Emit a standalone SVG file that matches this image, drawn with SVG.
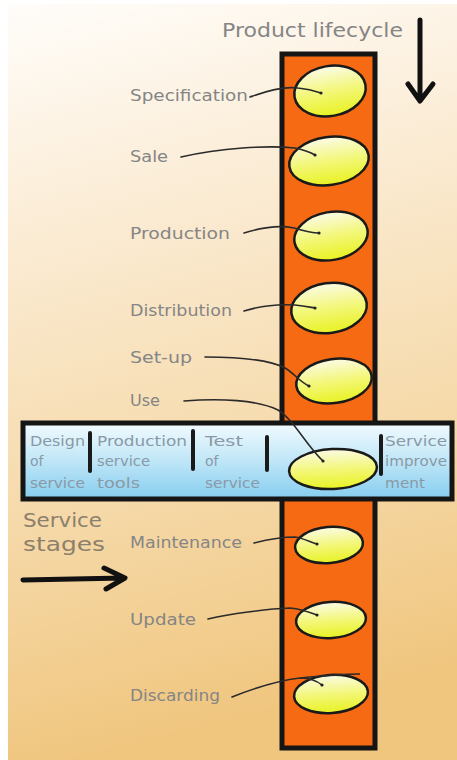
<svg xmlns="http://www.w3.org/2000/svg" width="457" height="760" viewBox="0 0 457 760">
<defs>
<linearGradient id="bg" x1="0" y1="0" x2="0.15" y2="1">
<stop offset="0" stop-color="#fffdfa"/>
<stop offset="0.3" stop-color="#fbecd5"/>
<stop offset="0.7" stop-color="#f5d8a6"/>
<stop offset="1" stop-color="#f0c67f"/>
</linearGradient>
<linearGradient id="band" x1="0" y1="0" x2="0" y2="1">
<stop offset="0" stop-color="#f2fbff"/>
<stop offset="0.5" stop-color="#bfe6f7"/>
<stop offset="1" stop-color="#86cdef"/>
</linearGradient>
<linearGradient id="egg" x1="0" y1="0" x2="0" y2="1">
<stop offset="0" stop-color="#fbfbe6"/>
<stop offset="0.5" stop-color="#f3f77a"/>
<stop offset="1" stop-color="#e8f222"/>
</linearGradient>
<marker id="dot" markerWidth="4" markerHeight="4" refX="2" refY="2" markerUnits="userSpaceOnUse">
<circle cx="2" cy="2" r="1.6" fill="#222"/>
</marker>
</defs>
<style>
.lbl{font-family:"DejaVu Sans","Liberation Sans",sans-serif;font-size:15px;fill:#858585}
.bt{font-family:"DejaVu Sans","Liberation Sans",sans-serif;font-size:14px;fill:#8a99a6}
.egg{fill:url(#egg);stroke:#1a1a1a;stroke-width:2.5}
.con{fill:none;stroke:#2a2a2a;stroke-width:1.6;stroke-linecap:round;marker-end:url(#dot)}
.div{stroke:#1a1a1a;stroke-width:4;stroke-linecap:round}
.arr{fill:none;stroke:#111;stroke-width:5;stroke-linecap:round;stroke-linejoin:round}
</style>
<rect x="0" y="0" width="457" height="760" fill="#ffffff"/>
<rect x="8" y="4" width="449" height="756" fill="url(#bg)"/>

<g id="title">
<text x="222" y="37" class="lbl" style="font-size:20px" textLength="181" lengthAdjust="spacingAndGlyphs">Product lifecycle</text>
<path class="arr" d="M420,20 L420,100 M408,84 L420,101 L433,84"/>
</g>

<g id="lifecycle-column">
<rect x="282" y="54" width="93" height="694" fill="#f66a14" stroke="#151515" stroke-width="5"/>
</g>

<g id="service-band">
<rect x="23" y="423" width="429" height="76" fill="url(#band)" stroke="#151515" stroke-width="5"/>
<line class="div" x1="90" y1="433" x2="90" y2="471"/>
<line class="div" x1="193" y1="431" x2="193" y2="469"/>
<line class="div" x1="267" y1="437" x2="267" y2="470"/>
<line class="div" x1="381" y1="436" x2="381" y2="474"/>
</g>

<g id="stage-design">
<text class="bt" x="30" y="446" textLength="55" lengthAdjust="spacingAndGlyphs">Design</text>
<text class="bt" x="30" y="466">of</text>
<text class="bt" x="30" y="488" textLength="55" lengthAdjust="spacingAndGlyphs">service</text>
</g>
<g id="stage-production-tools">
<text class="bt" x="97" y="446" textLength="90" lengthAdjust="spacingAndGlyphs">Production</text>
<text class="bt" x="97" y="466" textLength="53" lengthAdjust="spacingAndGlyphs">service</text>
<text class="bt" x="97" y="488" textLength="43" lengthAdjust="spacingAndGlyphs">tools</text>
</g>
<g id="stage-test">
<text class="bt" x="205" y="446" textLength="38" lengthAdjust="spacingAndGlyphs">Test</text>
<text class="bt" x="205" y="466">of</text>
<text class="bt" x="205" y="488" textLength="55" lengthAdjust="spacingAndGlyphs">service</text>
</g>
<g id="stage-improvement">
<text class="bt" x="385" y="446" textLength="62" lengthAdjust="spacingAndGlyphs">Service</text>
<text class="bt" x="385" y="466" textLength="62" lengthAdjust="spacingAndGlyphs">improve</text>
<text class="bt" x="385" y="488" textLength="40" lengthAdjust="spacingAndGlyphs">ment</text>
</g>

<g id="service-stages">
<text x="23" y="527" class="lbl" style="font-size:19px;fill:#8c806c" textLength="79" lengthAdjust="spacingAndGlyphs">Service</text>
<text x="23" y="551" class="lbl" style="font-size:19px;fill:#8c806c" textLength="82" lengthAdjust="spacingAndGlyphs">stages</text>
<path class="arr" d="M23,580 L124,578 M104,568 L125,578 L106,589"/>
</g>

<g id="node-specification">
<ellipse class="egg" cx="330" cy="91" rx="36" ry="25" transform="rotate(-10 330 91)"/>
<text class="lbl" x="130" y="101" textLength="118" lengthAdjust="spacingAndGlyphs">Specification</text>
</g>
<g id="node-sale">
<ellipse class="egg" cx="329" cy="161" rx="40" ry="24" transform="rotate(-8 329 161)"/>
<text class="lbl" x="130" y="162" textLength="38" lengthAdjust="spacingAndGlyphs">Sale</text>
</g>
<g id="node-production">
<ellipse class="egg" cx="331" cy="236" rx="37" ry="24" transform="rotate(-10 331 236)"/>
<text class="lbl" x="130" y="239" textLength="100" lengthAdjust="spacingAndGlyphs">Production</text>
</g>
<g id="node-distribution">
<ellipse class="egg" cx="329" cy="308" rx="38" ry="25" transform="rotate(-8 329 308)"/>
<text class="lbl" x="130" y="316" textLength="102" lengthAdjust="spacingAndGlyphs">Distribution</text>
</g>
<g id="node-setup">
<ellipse class="egg" cx="334" cy="381" rx="38" ry="22" transform="rotate(-8 334 381)"/>
<text class="lbl" x="130" y="363" textLength="62" lengthAdjust="spacingAndGlyphs">Set-up</text>
</g>
<g id="node-use">
<ellipse class="egg" cx="333" cy="469" rx="44" ry="20" transform="rotate(-3 333 469)"/>
<text class="lbl" x="130" y="406" textLength="30" lengthAdjust="spacingAndGlyphs">Use</text>
</g>
<g id="node-maintenance">
<ellipse class="egg" cx="329" cy="545" rx="34" ry="18" transform="rotate(-5 329 545)"/>
<text class="lbl" x="130" y="548" textLength="112" lengthAdjust="spacingAndGlyphs">Maintenance</text>
</g>
<g id="node-update">
<ellipse class="egg" cx="331" cy="620" rx="35" ry="18" transform="rotate(-4 331 620)"/>
<text class="lbl" x="130" y="625" textLength="66" lengthAdjust="spacingAndGlyphs">Update</text>
</g>
<g id="node-discarding">
<ellipse class="egg" cx="331" cy="694" rx="37" ry="19" transform="rotate(-4 331 694)"/>
<text class="lbl" x="130" y="701" textLength="90" lengthAdjust="spacingAndGlyphs">Discarding</text>
</g>

<g id="connectors">
<path class="con" d="M250,97 C265,92 282,86 298,88 C308,89 315,91 321,93"/>
<path class="con" d="M181,157 C220,148 268,145 295,148 C304,150 310,152 315,155"/>
<path class="con" d="M244,233 C260,228 280,225 294,228 C304,231 311,233 319,233"/>
<path class="con" d="M244,311 C260,306 280,304 295,305 C304,306 309,307 315,308"/>
<path class="con" d="M205,357 C240,357 270,360 285,368 C295,374 300,382 309,386"/>
<path class="con" d="M184,401 C220,398 258,400 278,410 C294,420 306,445 323,461"/>
<path class="con" d="M254,543 C266,540 280,537 295,537 C303,538 310,542 317,544"/>
<path class="con" d="M208,619 C230,614 265,609 290,608 C300,609 309,612 317,615"/>
<path class="con" d="M232,697 C252,689 275,681 300,678 C310,678 317,681 322,685"/>
<path d="M300,678 C320,676 342,674 360,674" fill="none" stroke="#2a2a2a" stroke-width="1.4"/>
</g>
</svg>
